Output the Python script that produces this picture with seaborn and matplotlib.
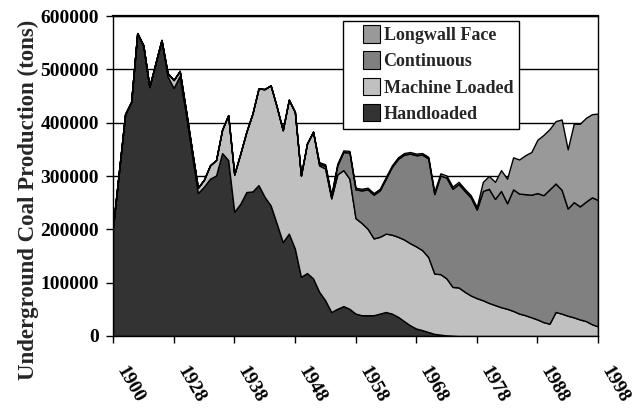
import numpy as np
import matplotlib
matplotlib.use('Agg')
import matplotlib.pyplot as plt
import matplotlib.transforms as mtransforms
import seaborn as sns
from matplotlib.patches import Patch, Rectangle
from matplotlib.legend_handler import HandlerPatch

# Underground coal production (tons) by mining method
handloaded = [
    205000, 310000, 416000, 439000, 568000, 545000, 467000, 511000, 555000, 487000,
    465000, 488000, 418000, 343000, 268000, 280000, 295000, 301000, 343000, 330000,
    233000, 248000, 270000, 271000, 283000, 261000, 245000, 211000, 176000, 192000,
    164000, 111000, 118000, 108000, 83000, 67000, 45000, 51000, 56000, 51000,
    42000, 39000, 39000, 39000, 42000, 45000, 42000, 36000, 28000, 20000,
    14000, 11000, 7500, 4000, 2500, 1200, 600, 0, 0, 0,
    0, 0, 0, 0, 0, 0, 0, 0, 0, 0,
    0, 0, 0, 0, 0, 0, 0, 0, 0, 0,
    0,
]
machine_loaded = [
    0, 0, 0, 0, 0, 0, 0, 0, 0, 6000,
    15000, 9000, 7000, 7000, 10000, 13000, 25000, 29000, 44000, 84000,
    70000, 94000, 113000, 146000, 181000, 202000, 225000, 219000, 210000, 251000,
    256000, 190000, 243000, 275000, 237000, 247000, 213000, 252000, 255000, 244000,
    179000, 173000, 162000, 144000, 144000, 147000, 148000, 150000, 153000, 154000,
    154000, 150000, 140500, 113000, 113500, 106800, 91400, 91000, 83000, 76000,
    71000, 67000, 62000, 58000, 54000, 51000, 47000, 42000, 39000, 35000,
    31000, 26000, 23000, 45000, 42000, 38000, 35000, 31000, 28000, 22000,
    18000,
]
continuous = [
    0, 0, 0, 0, 0, 0, 0, 0, 0, 0,
    0, 0, 0, 0, 0, 0, 0, 0, 0, 0,
    0, 0, 0, 0, 0, 0, 0, 0, 0, 0,
    0, 0, 0, 0, 3000, 5000, 3000, 17000, 34000, 49000,
    54000, 61000, 74000, 82000, 87000, 103000, 127000, 146000, 159000, 168000,
    171000, 179000, 185000, 149000, 185000, 189000, 184000, 194000, 189000, 184000,
    166000, 205000, 214000, 199000, 218000, 198000, 228000, 225000, 227000, 230000,
    237000, 238000, 252000, 241000, 232000, 201000, 216000, 212000, 224000, 238000,
    237000,
]
longwall_face = [
    0, 0, 0, 0, 0, 0, 0, 0, 0, 0,
    0, 0, 0, 0, 0, 0, 0, 0, 0, 0,
    0, 0, 0, 0, 0, 0, 0, 0, 0, 0,
    0, 0, 0, 0, 3000, 3000, 3000, 3000, 3000, 3000,
    3000, 3000, 3000, 3000, 3000, 3000, 3000, 3000, 3000, 3000,
    3000, 3000, 3000, 4000, 4000, 4000, 4000, 4000, 4000, 4000,
    5000, 17000, 24000, 32000, 39000, 46000, 60000, 64000, 73000, 80000,
    100000, 113000, 113000, 117000, 132000, 111000, 147000, 155000, 157000, 156000,
    162000,
]
tick_labels = ['1900', '1928', '1938', '1948', '1958', '1968', '1978', '1988', '1998']
series_names = ['Handloaded', 'Machine Loaded', 'Continuous', 'Longwall Face']
colors = ['#333333', '#c0c0c0', '#808080', '#999999']

sns.set_theme(style='white')
plt.rcParams['font.family'] = ['Liberation Serif', 'DejaVu Serif']
plt.rcParams['font.weight'] = 'bold'

fig, ax = plt.subplots(figsize=(6.42, 4.11), dpi=100)
fig.subplots_adjust(left=0.176, right=0.9315, top=0.961, bottom=0.1825)

x = np.arange(len(handloaded))
ax.stackplot(x, handloaded, machine_loaded, continuous, longwall_face,
             colors=colors, edgecolor='black', linewidth=1.0, zorder=2)

# axes and grid
ax.set_xlim(0, len(handloaded) - 1)
ax.set_ylim(0, 600000)
ax.set_yticks(np.arange(0, 600001, 100000))
ax.set_yticklabels([str(v) for v in range(0, 600001, 100000)], fontsize=14, fontweight='bold')
ax.set_xticks(np.arange(0, len(handloaded), 10))
ax.set_xticklabels(tick_labels, fontsize=14, fontweight='bold')
shift = mtransforms.ScaledTranslation(-5 / 100, 0, fig.dpi_scale_trans)
for lab in ax.get_xticklabels():
    lab.set_rotation(-60)
    lab.set_ha('left')
    lab.set_va('bottom')
    lab.set_rotation_mode('anchor')
    lab.set_transform(lab.get_transform() + shift)
ax.tick_params(axis='x', direction='out', length=5, width=1, pad=21, colors='black', bottom=True)
ax.tick_params(axis='y', direction='out', length=5, width=1, pad=5, colors='black', left=True)
ax.yaxis.grid(True, color='black', linewidth=1.0)
ax.set_axisbelow(True)
for side, spine in ax.spines.items():
    spine.set_color('black')
    spine.set_linewidth(1.0)
    spine.set_zorder(3)
ax.spines['top'].set_linewidth(1.6)

ax.set_ylabel('Underground Coal Production (tons)', fontsize=16.5, fontweight='bold')
ax.yaxis.set_label_coords(-0.152, 0.425)


# square legend keys sitting at the right end of the handle box
def square_key(legend, orig_handle, xdescent, ydescent, width, height, fontsize):
    side = 12.5
    return Rectangle((width - side - xdescent, (height - side) / 2 - ydescent), side, side)


handles = [Patch(facecolor=c, edgecolor='black', linewidth=0.8) for c in colors]
leg = ax.legend(handles[::-1], series_names[::-1], loc='upper left',
                bbox_to_anchor=(0.474, 0.984), borderaxespad=0, fontsize=13,
                frameon=True, fancybox=False, framealpha=1, edgecolor='black',
                borderpad=0.35, handlelength=1.7, handleheight=0.7,
                handletextpad=0.2, labelspacing=0.5,
                handler_map={Patch: HandlerPatch(patch_func=square_key)})
leg.get_frame().set_linewidth(1.0)
for t in leg.get_texts():
    t.set_fontweight('bold')

fig.savefig('out.png', dpi=100)
